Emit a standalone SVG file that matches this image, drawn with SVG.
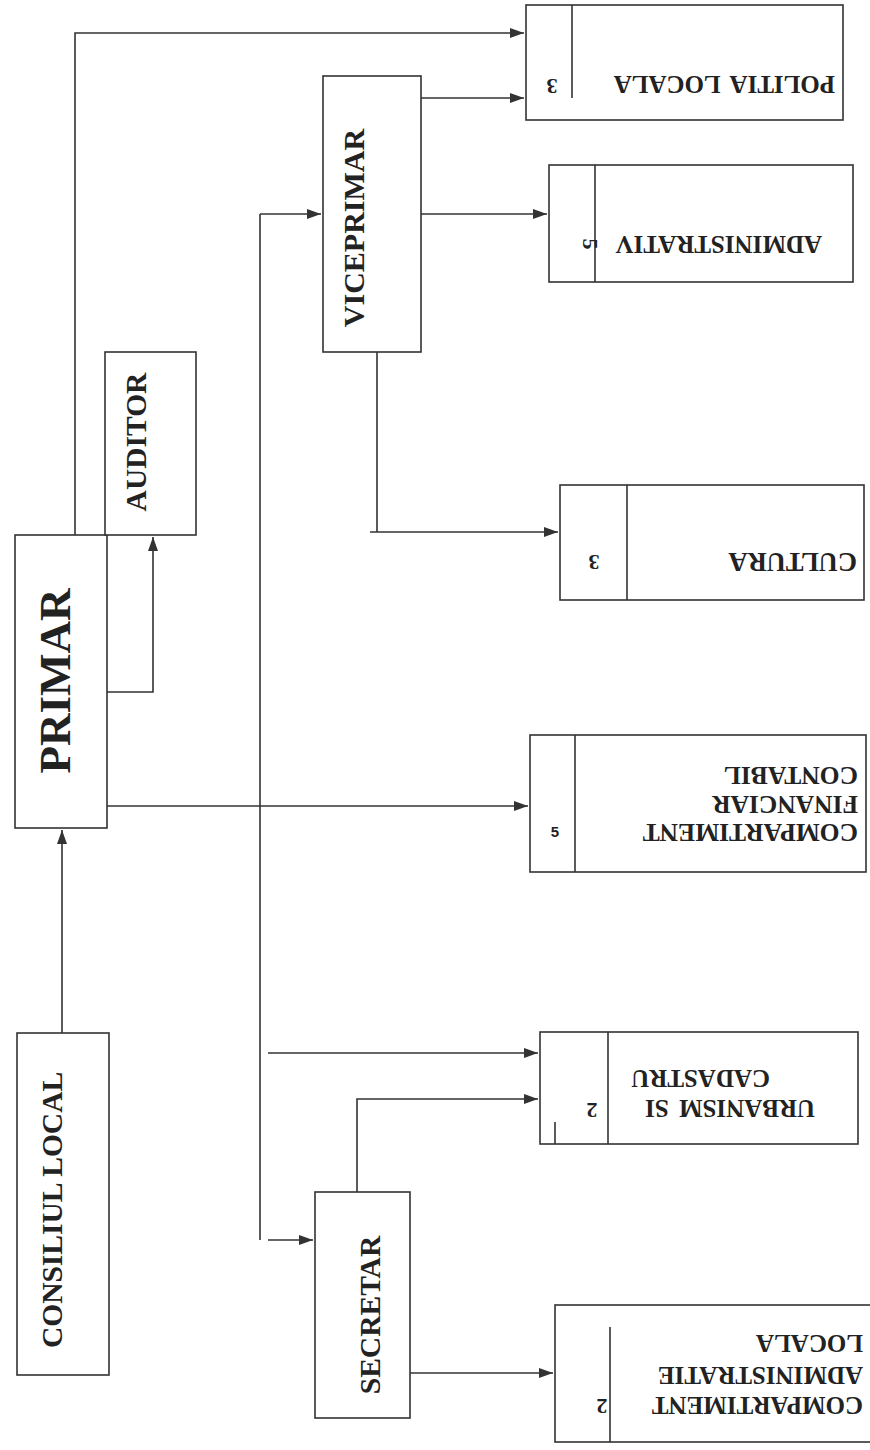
<svg xmlns="http://www.w3.org/2000/svg" width="870" height="1450" viewBox="0 0 870 1450">
<defs>
<marker id="ah" viewBox="0 0 14 10" refX="14" refY="5" markerWidth="14" markerHeight="10" markerUnits="userSpaceOnUse" orient="auto"><path d="M0,0 L14,5 L0,10 z" fill="#333"/></marker>
</defs>
<style>
.box{fill:#fff;stroke:#333;stroke-width:1.6}
.dv{fill:none;stroke:#333;stroke-width:1.6}
.c{fill:none;stroke:#333;stroke-width:1.6}
.a{marker-end:url(#ah)}
.t{font-family:"Liberation Serif","Times New Roman",serif;font-weight:bold;fill:#222}
.v{text-anchor:middle;dominant-baseline:central}
.u{text-anchor:start;dominant-baseline:central;font-size:25px;word-spacing:4px}
.n{text-anchor:middle;dominant-baseline:central;font-size:22px}
</style>
<rect width="870" height="1450" fill="#fff"/>

<g id="connectors">
<path class="c a" d="M62,1033 V830"/>
<path class="c a" d="M107,692 H153 V537"/>
<path class="c a" d="M75,535 V33 H524"/>
<path class="c a" d="M107,806 H528"/>
<path class="c" d="M260,214 V1240"/>
<path class="c a" d="M260,214 H321"/>
<path class="c a" d="M268,1240 H313"/>
<path class="c a" d="M268,1053 H538"/>
<path class="c a" d="M421,98 H524"/>
<path class="c a" d="M413,214 H547"/>
<path class="c" d="M377,325 V532"/>
<path class="c a" d="M370,532 H558"/>
<path class="c a" d="M357,1192 V1099 H538"/>
<path class="c a" d="M410,1373 H553"/>
</g>

<g id="consiliul">
<rect class="box" x="17" y="1033" width="92" height="342"/>
<text class="t v" x="52" y="1210" font-size="29.5" transform="rotate(-90 52 1210)">CONSILIUL LOCAL</text>
</g>

<g id="primar">
<rect class="box" x="15" y="535" width="92" height="293"/>
<text class="t v" x="55" y="681" font-size="45" transform="rotate(-90 55 681)">PRIMAR</text>
</g>

<g id="auditor">
<rect class="box" x="105" y="352" width="91" height="183"/>
<text class="t v" x="136" y="442" font-size="29.5" transform="rotate(-90 136 442)">AUDITOR</text>
</g>

<g id="viceprimar">
<rect class="box" x="323" y="76" width="98" height="276"/>
<text class="t v" x="353" y="228" font-size="30" transform="rotate(-90 353 228)">VICEPRIMAR</text>
</g>

<g id="secretar">
<rect class="box" x="315" y="1192" width="95" height="226"/>
<text class="t v" x="370" y="1315" font-size="29.5" transform="rotate(-90 370 1315)">SECRETAR</text>
</g>

<g id="politia">
<rect class="box" x="526" y="5" width="317" height="115"/>
<path class="dv" d="M572,5 V98"/>
<text class="t n" x="552" y="86" transform="rotate(180 552 86)">3</text>
<text class="t u" x="835" y="84" transform="rotate(180 835 84)">POLITIA LOCALA</text>
</g>

<g id="administrativ">
<rect class="box" x="549" y="165" width="304" height="117"/>
<path class="dv" d="M595,165 V282"/>
<text class="t n" x="590" y="244" transform="rotate(90 590 244)">5</text>
<text class="t u" x="822" y="244" transform="rotate(180 822 244)">ADMINISTRATIV</text>
</g>

<g id="cultura">
<rect class="box" x="560" y="485" width="304" height="115"/>
<path class="dv" d="M627,485 V600"/>
<text class="t n" x="594" y="562" transform="rotate(180 594 562)">3</text>
<text class="t u" x="857" y="562" style="font-size:26.5px" transform="rotate(180 857 562)">CULTURA</text>
</g>

<g id="financiar">
<rect class="box" x="530" y="735" width="336" height="137"/>
<path class="dv" d="M575,735 V872"/>
<text class="t" x="555" y="831" font-size="15" text-anchor="middle" dominant-baseline="central" style="font-family:'Liberation Sans',Arial,sans-serif">5</text>
<text class="t u" x="858" y="832" style="font-size:25.5px" transform="rotate(180 858 832)">COMPARTIMENT</text>
<text class="t u" x="858" y="804" style="font-size:25.5px" transform="rotate(180 858 804)">FINANCIAR</text>
<text class="t u" x="858" y="775" style="font-size:25.5px" transform="rotate(180 858 775)">CONTABIL</text>
</g>

<g id="urbanism">
<rect class="box" x="540" y="1032" width="318" height="112"/>
<path class="dv" d="M608,1032 V1144"/>
<path class="dv" d="M555,1122 V1144"/>
<text class="t n" x="592" y="1110" transform="rotate(180 592 1110)">2</text>
<text class="t u" x="815" y="1108" transform="rotate(180 815 1108)">URBANISM SI</text>
<text class="t u" x="770" y="1078" transform="rotate(180 770 1078)">CADASTRU</text>
</g>

<g id="comp_admin">
<rect class="box" x="555" y="1305" width="322" height="137"/>
<path class="dv" d="M610,1327 V1442"/>
<text class="t n" x="602" y="1406" transform="rotate(180 602 1406)">2</text>
<text class="t u" x="863" y="1405" transform="rotate(180 863 1405)">COMPARTIMENT</text>
<text class="t u" x="863" y="1375" transform="rotate(180 863 1375)">ADMINISTRATIE</text>
<text class="t u" x="863" y="1343" transform="rotate(180 863 1343)">LOCALA</text>
</g>
</svg>
